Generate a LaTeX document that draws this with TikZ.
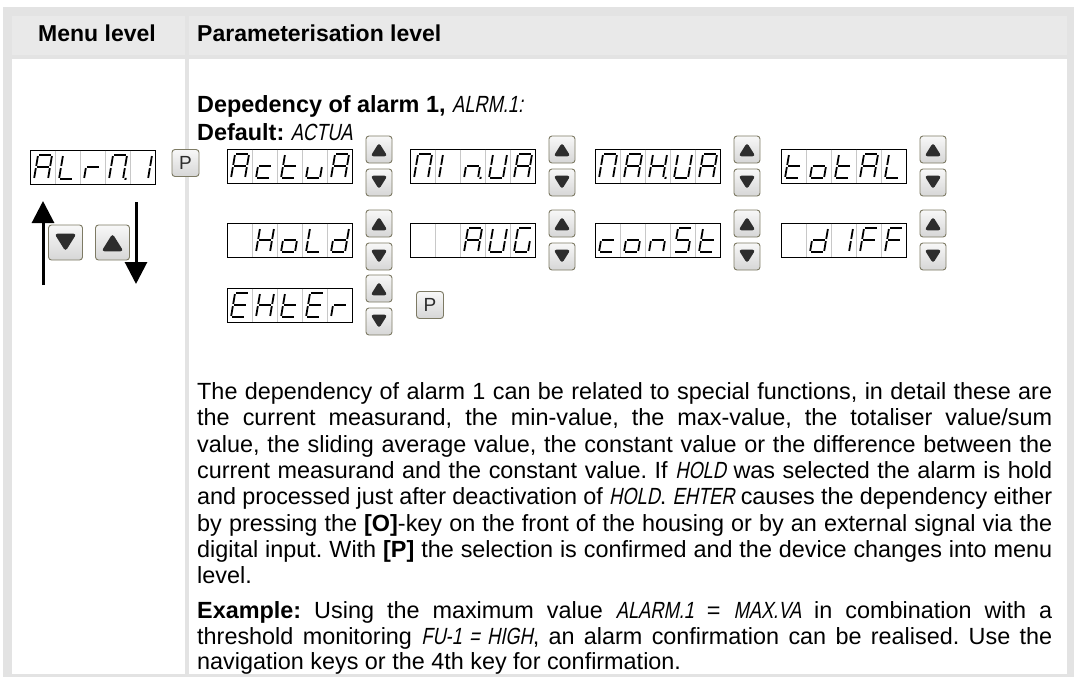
\documentclass[tikz,border=0pt]{standalone}
\usepackage{fontspec}
\setmainfont{Liberation Sans}
\newfontfamily\segfont[FakeSlant=0.2,FakeStretch=0.78]{Liberation Sans}
\usetikzlibrary{arrows.meta, positioning}
\frenchspacing

\definecolor{framegray}{RGB}{227,227,227}
\definecolor{headgray}{RGB}{233,233,233}
\definecolor{divgray}{RGB}{200,200,200}
\definecolor{keyedge}{RGB}{125,122,100}
\definecolor{keytop}{RGB}{248,248,248}
\definecolor{keybot}{RGB}{214,214,214}
\definecolor{trigray}{RGB}{45,45,45}

\newcommand\seg[1]{{\segfont #1}}

% segments of the 7-segment letters
\def\sgA{a,b,c,e,f,g}
\def\sgL{d,e,f}
\def\sgr{e,g}
\def\sgM{a,b,c,e,f}
\def\sgMp{a,b,c,e,f,p}
\def\sgone{b,c}
\def\sgc{d,e,g}
\def\sgt{d,e,f,g}
\def\sgu{c,d,e}
\def\sgI{e,f}
\def\sgn{c,e,g}
\def\sgnp{c,e,g,p}
\def\sgU{b,c,d,e,f}
\def\sgH{b,c,e,f,g}
\def\sgHp{b,c,e,f,g,p}
\def\sgo{c,d,e,g}
\def\sgd{b,c,d,e,g}
\def\sgG{a,c,d,e,f}
\def\sgS{a,c,d,f,g}
\def\sgF{a,e,f,g}
\def\sgE{a,d,e,f,g}

% one digit cell: x, y of its top left corner, segments
\newcommand\segcell[3]{%
  \if\relax\detokenize{#3}\relax\else
  \begin{scope}[shift={(#1+4,#2+29)}, xslant=0.17]
    \coordinate (a1) at (0,-24);    \coordinate (a2) at (14,-24);
    \coordinate (b1) at (14,-24);   \coordinate (b2) at (14,-12);
    \coordinate (c1) at (14,-12);   \coordinate (c2) at (14,0);
    \coordinate (d1) at (0,0);      \coordinate (d2) at (14,0);
    \coordinate (e1) at (0,-12);    \coordinate (e2) at (0,0);
    \coordinate (f1) at (0,-24);    \coordinate (f2) at (0,-12);
    \coordinate (g1) at (0,-12);    \coordinate (g2) at (14,-12);
    \foreach \k in #3 {%
      \if p\k \fill (15.5,0.9) rectangle (17.5,-1.1);
      \else \draw[segline] (\k1) -- (\k2); \fi}
  \end{scope}\fi}

% five digit display: name, x, y, five cells
\newcommand\segdisp[8]{%
  \node[dispbox] (#1) at (#2,#3) {};
  \foreach \i in {1,...,4}
    \draw[celldiv] ([xshift=25*\i]#1.north west) -- ([xshift=25*\i]#1.south west);
  \segcell{#2}{#3}{#4}\segcell{#2+25}{#3}{#5}\segcell{#2+50}{#3}{#6}%
  \segcell{#2+75}{#3}{#7}\segcell{#2+100}{#3}{#8}}

\begin{document}
\begin{tikzpicture}[x=1pt, y=-1pt,
    dispbox/.style={draw, line width=1pt, fill=white, minimum width=125pt,
                    minimum height=34pt, inner sep=0pt, anchor=north west},
    celldiv/.style={draw=divgray, line width=0.8pt, shorten <=0.6pt, shorten >=0.6pt},
    segline/.style={line width=1.8pt, shorten <=1.1pt, shorten >=1.1pt},
    keybox/.style={draw=keyedge, line width=0.9pt, rounded corners=3pt,
                   top color=keytop, bottom color=keybot,
                   minimum width=26pt, minimum height=27pt, inner sep=0pt},
    keyup/.style={keybox, path picture={\fill[trigray]
        ([xshift=-#1, yshift=-0.8*#1]path picture bounding box.center) --
        ([xshift=#1, yshift=-0.8*#1]path picture bounding box.center) --
        ([yshift=0.8*#1]path picture bounding box.center) -- cycle;}},
    keyup/.default=8.5pt,
    keydown/.style={keybox, path picture={\fill[trigray]
        ([xshift=-#1, yshift=0.8*#1]path picture bounding box.center) --
        ([xshift=#1, yshift=0.8*#1]path picture bounding box.center) --
        ([yshift=-0.8*#1]path picture bounding box.center) -- cycle;}},
    keydown/.default=8.5pt,
    bigkey/.style={minimum width=34pt, minimum height=35pt},
    pkey/.style={keybox, minimum width=27pt, minimum height=27pt,
                 font=\fontsize{19}{19}\selectfont, text=trigray},
    navarrow/.style={-{Triangle[width=22pt,length=22pt]}, line width=3pt},
    headtext/.style={font=\fontsize{23}{25}\selectfont\bfseries, inner sep=0pt},
    bodytext/.style={font=\fontsize{23.4}{26.3}\selectfont, inner sep=0pt}
]
\useasboundingbox (0,0) rectangle (1074,677);
\fill[white] (0,0) rectangle (1074,677);

% table
\fill[framegray] (3,7) rectangle (1074,677);
\fill[headgray] (12,16) rectangle (185,55);
\fill[headgray] (189,16) rectangle (1067,55);
\fill[white] (12,59) rectangle (185,674);
\fill[white] (189,59) rectangle (1067,674);

\node[headtext, anchor=base] (hmenu) at (97,42) {Menu level};
\node[headtext, anchor=base west] (hparam) at (197,42) {Parameterisation level};

% menu level
\segdisp{alrm}{30}{150}{\sgA}{\sgL}{\sgr}{\sgMp}{\sgone}
\node[pkey] (pmenu) at (185.5,163) {P};
\node[keydown=11pt, bigkey] (mdown) at (65.5,242.5) {};
\node[keyup=11pt, bigkey] (mup) at (112.5,242.5) {};
\coordinate (upfrom) at (43,285);
\coordinate (upto) at (43,201);
\coordinate (downfrom) at (136,202);
\coordinate (downto) at (136,284);
\draw[navarrow] (upfrom) -- (upto);
\draw[navarrow] (downfrom) -- (downto);

% parameterisation level
\node[bodytext, anchor=base west] (dep) at (197,112)
  {\textbf{Depedency of alarm 1,} \seg{ALRM.1:}};
\node[bodytext, anchor=base west] (dflt) at (197,140)
  {\textbf{Default:} \seg{ACTUA}};

\segdisp{actua}{227}{149}{\sgA}{\sgc}{\sgt}{\sgu}{\sgA}
\segdisp{minua}{410}{149}{\sgM}{\sgI}{\sgnp}{\sgU}{\sgA}
\segdisp{mahua}{595}{149}{\sgM}{\sgA}{\sgHp}{\sgU}{\sgA}
\segdisp{total}{781}{149}{\sgt}{\sgo}{\sgt}{\sgA}{\sgL}
\segdisp{hold}{227}{223}{}{\sgH}{\sgo}{\sgL}{\sgd}
\segdisp{aug}{410}{223}{}{}{\sgA}{\sgU}{\sgG}
\segdisp{const}{595}{223}{\sgc}{\sgo}{\sgn}{\sgS}{\sgt}
\segdisp{diff}{781}{223}{}{\sgd}{\sgone}{\sgF}{\sgF}
\segdisp{ehter}{227}{288}{\sgE}{\sgH}{\sgt}{\sgE}{\sgr}

\foreach \r/\y in {1/149, 2/223}
  \foreach \c/\x in {1/227, 2/410, 3/595, 4/781} {
    \node[keyup] (up\r\c) at (\x+152,\y+0.5) {};
    \node[keydown] (dn\r\c) at (\x+152,\y+33.5) {};
  }
\node[keyup] (up31) at (379,288.5) {};
\node[keydown] (dn31) at (379,321.5) {};
\node[pkey] (pconf) at (430,305) {P};

\node[bodytext, anchor=north west, text width=855pt, align=justify] (desc) at (197,382.5)
  {\hyphenpenalty=10000\exhyphenpenalty=10000
   The dependency of alarm 1 can be related to special functions, in detail these are\linebreak
   the current measurand, the min-value, the max-value, the totaliser value/sum\linebreak
   value, the sliding average value, the constant value or the difference between the\linebreak
   current measurand and the constant value. If \seg{HOLD} was selected the alarm is hold\linebreak
   and processed just after deactivation of \seg{HOLD}. \seg{EHTER} causes the dependency either\linebreak
   by pressing the \textbf{[O]}-key on the front of the housing or by an external signal via the\linebreak
   digital input. With \textbf{[P]} the selection is confirmed and the device changes into menu\linebreak
   level.};
\node[bodytext, anchor=north west, text width=855pt, align=justify,
      font=\fontsize{23.4}{25.4}\selectfont] (example) at (197,601.7)
  {\hyphenpenalty=10000\exhyphenpenalty=10000
   \textbf{Example:} Using the maximum value \seg{ALARM.1} = \seg{MAX.VA} in combination with a\linebreak
   threshold monitoring \seg{FU-1 = HIGH}, an alarm confirmation can be realised. Use the\linebreak
   navigation keys or the 4th key for confirmation.};
\end{tikzpicture}
\end{document}
